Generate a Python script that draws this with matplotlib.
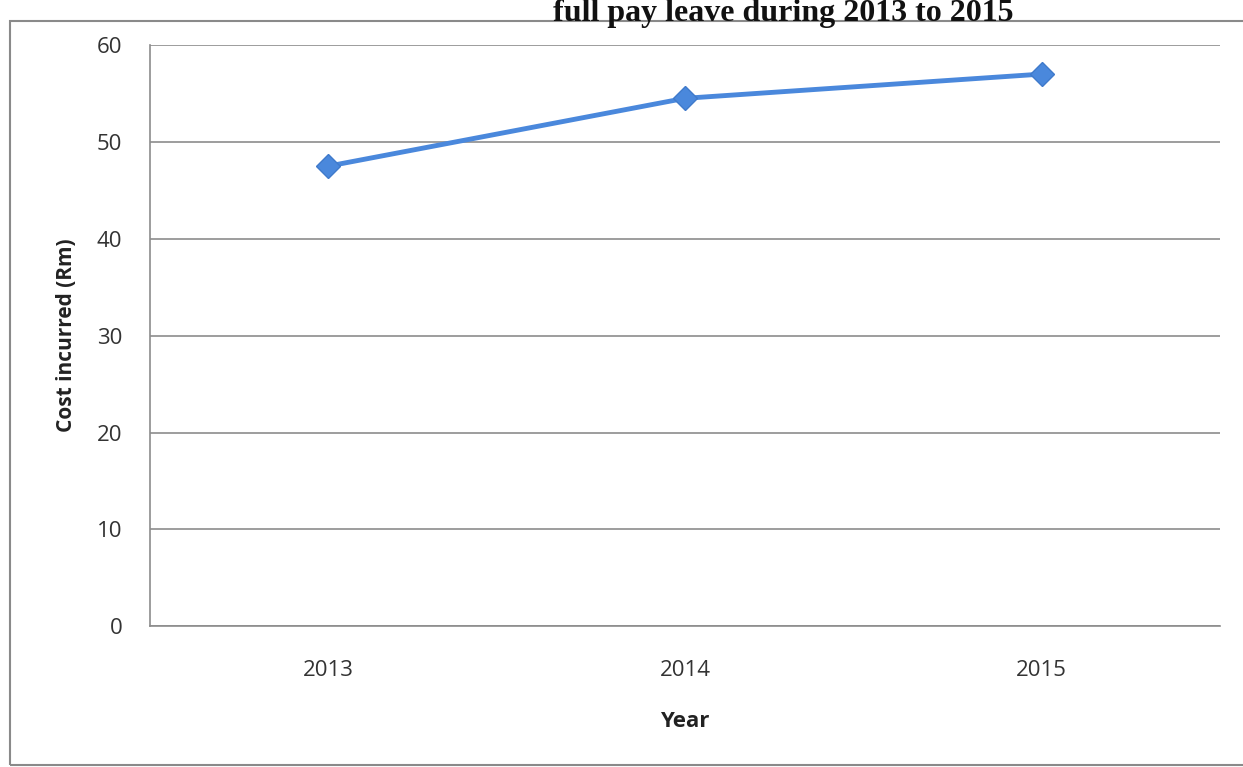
import matplotlib
matplotlib.use("Agg")
import matplotlib.pyplot as plt
from matplotlib.patches import Rectangle

years = ["2013", "2014", "2015"]
cost = [47.5, 54.5, 57.0]
yticks = [0, 10, 20, 30, 40, 50, 60]

fig = plt.figure(figsize=(12.43, 7.67), dpi=100)
fig.patch.set_facecolor("white")

# outer chart border
fig.add_artist(Rectangle((0.008, 0.003), 1.2, 0.969, transform=fig.transFigure,
                         fill=False, edgecolor="#8a8a8a", linewidth=1.5))

ax = fig.add_axes([0.1207, 0.1835, 0.8608, 0.7578])
x = list(range(len(years)))
ax.plot(x, cost, color="#4a88dc", linewidth=3.5, marker="D", markersize=12,
        markerfacecolor="#4a88dc", markeredgecolor="#3f7acb", zorder=3)

ax.set_xlim(-0.5, len(years) - 0.5)
ax.set_ylim(0, 60)
ax.set_yticks(yticks)
ax.set_xticks(x)
ax.set_xticklabels(years)
ax.grid(axis="y", color="#8c8c8c", linewidth=1.2)
ax.set_axisbelow(True)
for s in ["top", "right"]:
    ax.spines[s].set_visible(False)
ax.spines["left"].set_color("#8c8c8c")
ax.spines["bottom"].set_color("#8c8c8c")
ax.spines["left"].set_linewidth(1.2)
ax.spines["bottom"].set_linewidth(1.2)
ax.tick_params(axis="y", length=0, pad=20, labelsize=16, colors="#333333")
ax.tick_params(axis="x", length=0, pad=24, labelsize=16, colors="#333333")
for lab in ax.get_xticklabels() + ax.get_yticklabels():
    lab.set_fontfamily("Open Sans")

ax.set_xlabel("Year", fontsize=16, fontweight="bold", fontfamily="Open Sans",
              labelpad=22, color="#222222")
ax.set_ylabel("Cost incurred (Rm)", fontsize=15, fontweight="bold",
              fontfamily="Open Sans", labelpad=14, color="#222222")

# title (top of the scan is cut just above it)
fig.text(0.63, 0.973, "full pay leave during 2013 to 2015", ha="center",
         va="baseline", fontsize=23, fontweight="bold",
         fontfamily="Liberation Serif", color="#111111")

fig.savefig("out.png", dpi=100)
